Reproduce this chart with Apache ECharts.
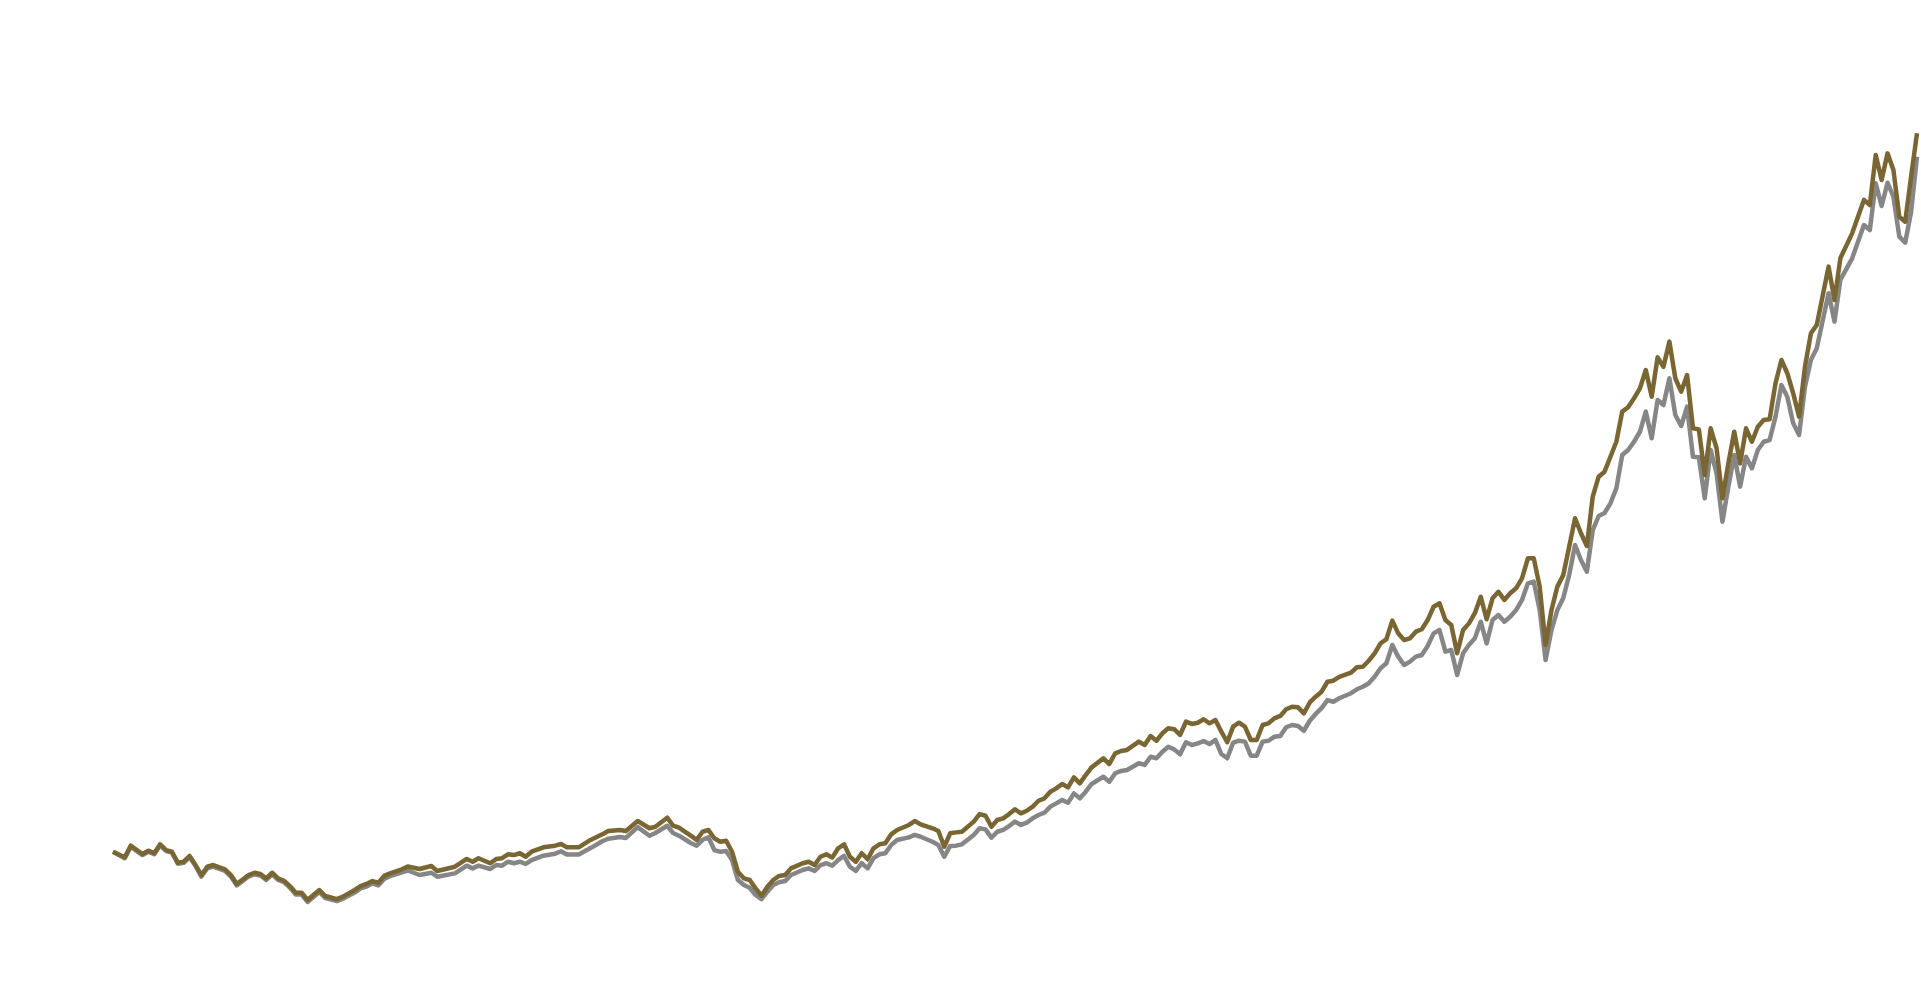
<!DOCTYPE html>
<html>
<head>
<meta charset="utf-8">
<title>Index chart</title>
<script src="https://cdn.jsdelivr.net/npm/echarts/dist/echarts.min.js"></script>
<style>
html,body{margin:0;padding:0;background:#ffffff;overflow:hidden;}
#chart{width:1921px;height:983px;}
</style>
</head>
<body>
<div id="chart"></div>
<script>
// months since Dec 1999 (0 = Dec 1999, 306 = Jun 2025)
const monthIndex = [
  0,2,3,5,6,7,8,9,10,11,
  12,13,14,15,16,17,19,20,21,23,
  24,25,26,27,28,29,30,31,32,33,
  35,36,38,39,41,42,43,44,45,46,
  47,49,50,52,54,55,58,60,61,62,
  64,65,66,67,68,69,70,71,73,75,
  76,77,79,81,83,84,86,87,89,91,
  92,94,95,96,98,99,100,101,102,103,
  104,105,106,107,108,109,110,111,112,113,
  114,115,117,118,119,120,121,122,123,124,
  125,126,127,128,129,130,131,132,133,135,
  136,137,139,140,141,142,143,144,146,147,
  148,149,150,151,152,153,154,155,156,157,
  158,159,160,161,162,163,164,165,166,168,
  169,170,171,172,174,175,176,177,178,179,
  180,181,182,183,184,185,186,187,188,189,
  190,191,192,193,194,195,196,197,198,199,
  200,201,202,203,204,205,206,207,208,210,
  211,212,213,214,215,216,217,218,219,220,
  221,222,223,224,225,226,227,228,229,230,
  231,232,233,234,235,236,237,238,239,240,
  241,242,243,244,245,246,247,248,249,250,
  251,252,253,254,255,256,257,258,259,260,
  261,262,263,264,265,266,267,268,269,270,
  271,272,273,274,275,276,277,278,279,280,
  281,282,283,284,285,286,287,288,289,291,
  292,293,295,297,298,299,300,301,302,303,
  304,305,306
];

const brownSeries = [
  1368,1331,1408,1353,1375,1358,1417,1379,1368,1295,
  1302,1340,1280,1214,1269,1280,1252,1214,1155,1214,
  1229,1221,1192,1229,1192,1176,1141,1097,1097,1049,
  1115,1075,1055,1071,1115,1141,1155,1174,1163,1208,
  1225,1252,1270,1254,1274,1241,1269,1320,1302,1325,
  1292,1320,1325,1351,1346,1358,1335,1368,1397,1408,
  1419,1397,1397,1446,1483,1505,1512,1505,1571,1523,
  1533,1593,1540,1527,1474,1446,1500,1512,1457,1434,
  1441,1368,1236,1192,1181,1126,1077,1137,1181,1208,
  1214,1258,1292,1302,1280,1335,1351,1329,1391,1417,
  1335,1302,1358,1318,1391,1417,1424,1483,1512,1545,
  1571,1549,1523,1505,1401,1490,1496,1500,1567,1617,
  1606,1533,1578,1589,1617,1649,1622,1639,1666,1705,
  1721,1765,1787,1816,1794,1860,1820,1875,1926,1986,
  1948,2019,2034,2041,2096,2074,2133,2102,2151,2184,
  2178,2140,2228,2213,2221,2244,2217,2239,2162,2092,
  2195,2221,2195,2107,2107,2206,2217,2250,2266,2310,
  2327,2323,2283,2355,2393,2426,2492,2499,2525,2552,
  2588,2591,2631,2680,2746,2773,2896,2812,2768,2779,
  2823,2839,2900,2988,3011,2900,2867,2680,2834,2878,
  2945,3054,2905,3044,3087,3033,3077,3110,3176,3308,
  3308,3121,2735,2966,3121,3198,3385,3573,3474,3390,
  3716,3848,3881,3980,4079,4278,4307,4366,4432,4553,
  4377,4637,4575,4741,4499,4410,4520,4168,4161,3859,
  4168,4036,3705,3936,4145,3936,4168,4079,4178,4223,
  4227,4466,4620,4532,4399,4245,4575,4796,4851,5237,
  5016,5292,5457,5678,5644,5975,5810,5986,5876,5567,
  5534,5832,6119
];

const graySeries = [
  1368,1325,1401,1346,1368,1351,1411,1373,1362,1289,
  1295,1333,1274,1204,1259,1270,1242,1204,1145,1204,
  1219,1211,1182,1219,1182,1167,1131,1085,1085,1036,
  1102,1062,1042,1057,1098,1125,1138,1158,1145,1188,
  1206,1232,1244,1214,1229,1203,1225,1276,1258,1276,
  1254,1280,1276,1302,1292,1302,1287,1313,1342,1355,
  1371,1350,1350,1392,1437,1454,1465,1459,1531,1474,
  1492,1540,1492,1474,1426,1408,1447,1463,1379,1368,
  1373,1313,1181,1148,1130,1082,1055,1104,1148,1166,
  1174,1214,1247,1258,1241,1280,1292,1276,1313,1340,
  1269,1241,1292,1258,1325,1351,1358,1413,1446,1463,
  1479,1467,1434,1413,1335,1406,1408,1417,1479,1523,
  1516,1461,1500,1512,1538,1567,1545,1560,1589,1611,
  1626,1666,1688,1710,1692,1754,1721,1765,1816,1864,
  1831,1887,1902,1908,1953,1942,1996,1986,2029,2062,
  2045,2012,2092,2074,2085,2100,2080,2107,2014,1986,
  2089,2102,2096,2003,2003,2096,2102,2129,2133,2191,
  2206,2199,2168,2234,2279,2318,2371,2360,2383,2416,
  2442,2459,2482,2525,2581,2614,2735,2658,2603,2625,
  2658,2669,2728,2812,2834,2691,2702,2537,2680,2735,
  2779,2889,2746,2900,2933,2889,2922,2966,3033,3143,
  3154,2966,2636,2834,2966,3046,3198,3396,3297,3220,
  3495,3588,3608,3672,3771,3991,4024,4079,4145,4278,
  4102,4355,4322,4499,4256,4183,4311,3980,3976,3705,
  4024,3870,3550,3782,3991,3782,3980,3903,4024,4079,
  4090,4245,4454,4377,4201,4124,4443,4620,4697,5061,
  4873,5149,5292,5512,5479,5788,5638,5792,5699,5435,
  5395,5600,5964
];

const brownColor = '#7a6633';
const grayColor = '#868686';

const chart = echarts.init(document.getElementById('chart'), null, {renderer: 'canvas'});

function pairs(values) {
  return monthIndex.map(function (m, i) { return [m, values[i]]; });
}

chart.setOption({
  animation: false,
  backgroundColor: '#ffffff',
  grid: {left: 113, right: 4, top: 0, bottom: 0, containLabel: false},
  xAxis: {type: 'value', min: 0, max: 306, show: false},
  yAxis: {type: 'value', min: 500, max: 7000, show: false},
  series: [
    {
      name: 'Gray',
      type: 'line',
      data: pairs(graySeries),
      symbol: 'none',
      showSymbol: false,
      z: 2,
      lineStyle: {color: grayColor, width: 4.5, join: 'round'},
      itemStyle: {color: grayColor}
    },
    {
      name: 'Brown',
      type: 'line',
      data: pairs(brownSeries),
      symbol: 'none',
      showSymbol: false,
      z: 3,
      lineStyle: {color: brownColor, width: 4.5, join: 'round'},
      itemStyle: {color: brownColor}
    }
  ]
});
</script>
</body>
</html>
